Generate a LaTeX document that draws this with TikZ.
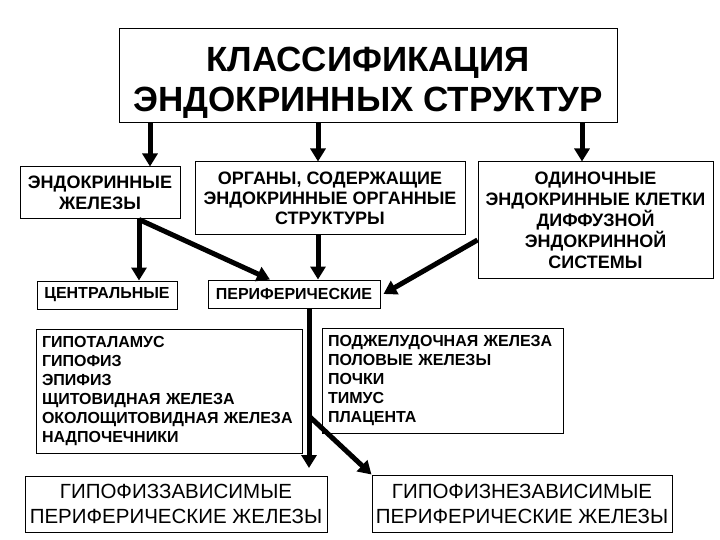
\documentclass[tikz,border=0pt]{standalone}
\usepackage{fontspec}
\setmainfont{Liberation Sans}
\usetikzlibrary{arrows.meta}
\tikzset{box/.style={draw,line width=1pt,inner sep=0pt,align=center,
                     font=\bfseries\fontsize{18}{21}\selectfont},
         smallbox/.style={box,font=\bfseries\fontsize{16}{20}\selectfont},
         listbox/.style={box,align=left,inner xsep=6pt,
                     font=\bfseries\fontsize{16}{19}\selectfont},
         depbox/.style={box,font=\fontsize{20.5}{25}\selectfont},
         }
\begin{document}
\begin{tikzpicture}[x=1pt,y=-1pt,
	arr/.style={line width=5pt,-{Triangle[length=13pt,width=15pt]}}]
\useasboundingbox (0,0) rectangle (720,540);
\node[box,font=\bfseries\fontsize{35}{40}\selectfont,
      minimum width=498pt,minimum height=94pt] (klass) at (368,76)
      {\rule{0pt}{37pt}КЛАССИФИКАЦИЯ\\ЭНДОКРИННЫХ СТРУКТУР};
\node[box,minimum width=160pt,minimum height=52pt] (endo) at (100,193)
      {ЭНДОКРИННЫЕ\\ЖЕЛЕЗЫ};
\node[box,font=\bfseries\fontsize{18}{20}\selectfont,
      minimum width=270pt,minimum height=72pt] (organ) at (330,198)
      {ОРГАНЫ, СОДЕРЖАЩИЕ\\ЭНДОКРИННЫЕ ОРГАННЫЕ\\СТРУКТУРЫ};
\node[box,minimum width=235pt,minimum height=116pt] (single) at (595.5,220)
      {ОДИНОЧНЫЕ\\ЭНДОКРИННЫЕ КЛЕТКИ\\ДИФФУЗНОЙ\\ЭНДОКРИННОЙ\\СИСТЕМЫ};
\node[smallbox,minimum width=140pt,minimum height=28pt] (central) at (107,295)
      {ЦЕНТРАЛЬНЫЕ};
\node[smallbox,minimum width=172pt,minimum height=28pt] (periph) at (294,294)
      {ПЕРИФЕРИЧЕСКИЕ};
\node[listbox,text width=254pt,minimum height=124pt] (listl) at (169,391)
      {ГИПОТАЛАМУС\\ГИПОФИЗ\\ЭПИФИЗ\\ЩИТОВИДНАЯ ЖЕЛЕЗА\\ОКОЛОЩИТОВИДНАЯ ЖЕЛЕЗА\\НАДПОЧЕЧНИКИ};
\node[listbox,text width=229pt,minimum height=105pt] (listr) at (442.5,380.5)
      {ПОДЖЕЛУДОЧНАЯ ЖЕЛЕЗА\\ПОЛОВЫЕ ЖЕЛЕЗЫ\\ПОЧКИ\\ТИМУС\\ПЛАЦЕНТА};
\node[depbox,minimum width=302pt,minimum height=56pt] (depl) at (176,504)
      {ГИПОФИЗЗАВИСИМЫЕ\\ПЕРИФЕРИЧЕСКИЕ ЖЕЛЕЗЫ};
\node[depbox,minimum width=300pt,minimum height=57pt] (depr) at (522,503.5)
      {ГИПОФИЗНЕЗАВИСИМЫЕ\\ПЕРИФЕРИЧЕСКИЕ ЖЕЛЕЗЫ};
\coordinate (c1) at (150,0);
\coordinate (c2) at (318,0);
\coordinate (c3) at (582,0);
\coordinate (c4) at (139,0);
\coordinate (c5) at (309,468);
\coordinate (c6) at (310,417);
\draw[arr] (klass.south -| c1) -- (endo.north -| c1);
\draw[arr] (klass.south -| c2) -- (organ.north -| c2);
\draw[arr] (klass.south -| c3) -- (single.north -| c3);
\draw[arr] (endo.south -| c4) -- (central.north -| c4);
\draw[arr] (endo.south -| c4) -- ([xshift=-24pt]periph.north);
\draw[arr] (organ.south -| c2) -- (periph.north -| c2);
\draw[arr] ([yshift=-20pt]single.west) -- ([xshift=3pt]periph.east);
\draw[arr] (periph.south -| c5) -- (c5);
\draw[arr] (c6) -- (depr.north west);
\end{tikzpicture}
\end{document}
